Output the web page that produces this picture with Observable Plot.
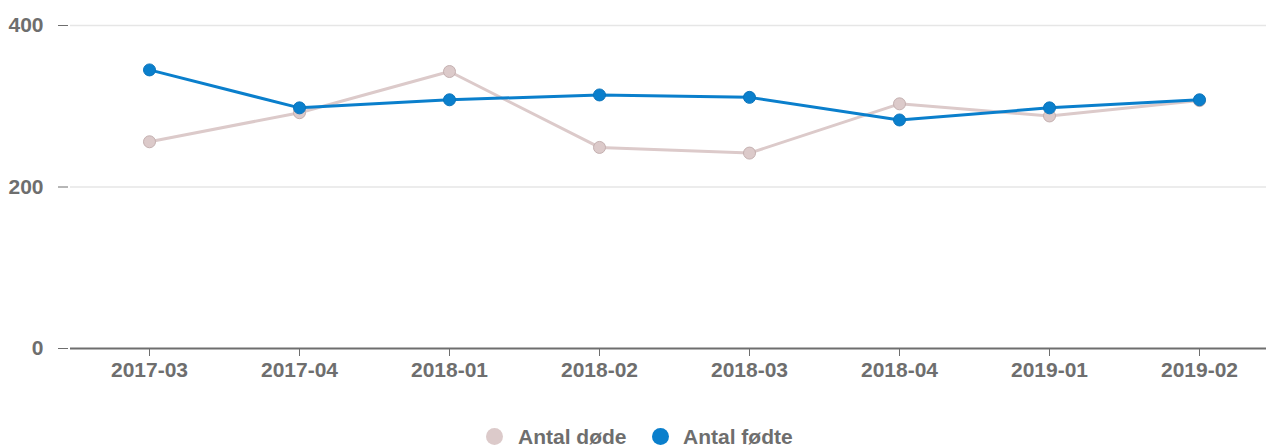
<!DOCTYPE html>
<html>
<head>
<meta charset="utf-8">
<script src="https://cdn.jsdelivr.net/npm/d3@7"></script>
<script src="https://cdn.jsdelivr.net/npm/@observablehq/plot@0.6"></script>
<style>
  html, body { margin: 0; padding: 0; background: #fff; }
  body { width: 1266px; height: 447px; overflow: hidden; font-family: "Liberation Sans", Arial, sans-serif; }
  #legend { position: absolute; left: 0; top: 425px; width: 1266px; height: 24px; }
  .item { position: absolute; top: 0; height: 24px; line-height: 24px; font-size: 21px; font-weight: bold; color: #6e6e6e; white-space: nowrap; }
  .sw { position: absolute; top: 3px; width: 17px; height: 17px; border-radius: 50%; }
</style>
</head>
<body>
<div id="chart"></div>
<div id="legend"></div>
<script>
const categories = ["2017-03","2017-04","2018-01","2018-02","2018-03","2018-04","2019-01","2019-02"];
const antalDoede = [256, 292, 343, 249, 242, 303, 288, 307];
const antalFoedte = [345, 298, 308, 314, 311, 283, 298, 308];
const yTicks = [0, 200, 400];
const seriesNames = ["Antal døde", "Antal fødte"];
const colors = {"Antal døde": "#dccaca", "Antal fødte": "#0a7fcc"};

const doede = categories.map((c, i) => ({cat: c, value: antalDoede[i], series: seriesNames[0]}));
const foedte = categories.map((c, i) => ({cat: c, value: antalFoedte[i], series: seriesNames[1]}));

const chart = Plot.plot({
  width: 1266,
  height: 425,
  marginLeft: 70,
  marginRight: 0,
  marginTop: 25,
  marginBottom: 77,
  style: {fontFamily: '"Liberation Sans", Arial, sans-serif', fontSize: "21px", fontWeight: "bold", color: "#6e6e6e", background: "#fff"},
  x: {type: "point", domain: categories, range: [147, 1200], padding: 0},
  y: {domain: [0, 400]},
  marks: [
    Plot.ruleY(yTicks.filter(d => d > 0), {stroke: "#e6e6e6", strokeWidth: 1.5}),
    Plot.ruleY([0], {stroke: "#6e6e6e", strokeWidth: 2}),
    Plot.axisY({ticks: yTicks, tickSize: 10, tickPadding: 15, dx: -2, label: null, tickFormat: d => String(d), fontSize: 21, fontWeight: "bold"}),
    Plot.axisX({tickSize: 8, tickPadding: 6, label: null, fontSize: 21, fontWeight: "bold"}),
    Plot.line(doede, {x: "cat", y: "value", stroke: colors["Antal døde"], strokeWidth: 3}),
    Plot.dot(doede, {x: "cat", y: "value", r: 6, fill: colors["Antal døde"], stroke: "#c4b0b0", strokeWidth: 1}),
    Plot.line(foedte, {x: "cat", y: "value", stroke: colors["Antal fødte"], strokeWidth: 3}),
    Plot.dot(foedte, {x: "cat", y: "value", r: 6, fill: colors["Antal fødte"], stroke: "#0a74bb", strokeWidth: 1})
  ]
});
document.getElementById("chart").appendChild(chart);

const legend = document.getElementById("legend");
const positions = [{sw: 486, text: 518}, {sw: 652, text: 683}];
seriesNames.forEach((name, i) => {
  const sw = document.createElement("div");
  sw.className = "sw";
  sw.style.left = positions[i].sw + "px";
  sw.style.background = colors[name];
  legend.appendChild(sw);
  const t = document.createElement("div");
  t.className = "item";
  t.style.left = positions[i].text + "px";
  t.textContent = name;
  legend.appendChild(t);
});
</script>
</body>
</html>
